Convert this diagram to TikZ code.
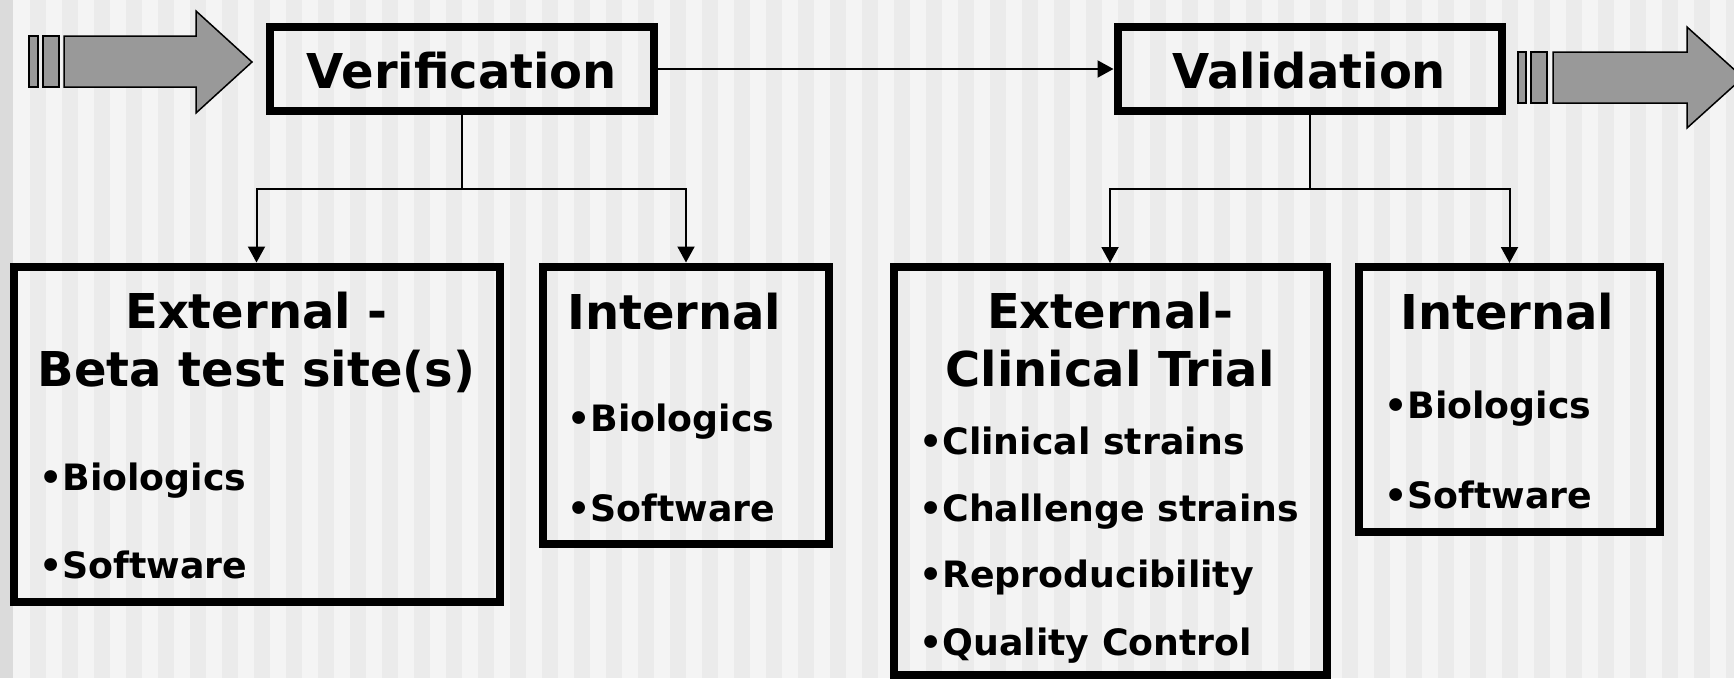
\documentclass[tikz,border=0pt]{standalone}
\usepackage{fontspec}
\setmainfont{DejaVu Sans}
\usetikzlibrary{arrows.meta}
\definecolor{stripeA}{HTML}{F4F4F4}
\definecolor{stripeB}{HTML}{EBEBEB}
\definecolor{leftstrip}{HTML}{DBDBDB}
\definecolor{arrowgray}{HTML}{999999}
\tikzset{
  boxframe/.style={draw=black, line width=8pt, rectangle, inner sep=0pt},
  conn/.style={draw=black, line width=2pt},
  tip/.style={-{Triangle[length=16pt,width=17pt]}},
  head/.style={font=\fontsize{48}{57}\selectfont\bfseries, inner sep=0pt},
  item/.style={font=\fontsize{36.3}{43}\selectfont\bfseries, inner sep=0pt, anchor=base west},
  bigarrow/.style={fill=arrowgray, draw=black, line width=1.5pt, line join=miter},
}
\begin{document}
\begin{tikzpicture}[x=1pt, y=-1pt]
\useasboundingbox (0,0) rectangle (1734,678);
\clip (0,0) rectangle (1734,678);
% background stripes
\fill[stripeA] (0,0) rectangle (1734,678);
\foreach \k in {0,...,53} {
  \fill[stripeB] ({30+32*\k},0) rectangle ({46+32*\k},678);
}
\fill[leftstrip] (0,0) rectangle (13,678);

% big arrows
\draw[bigarrow] (29,36) rectangle (38,87);
\draw[bigarrow] (43,36) rectangle (59,87);
\draw[bigarrow] (64,36) -- (196,36) -- (196,11) -- (252,62) -- (196,113) -- (196,87) -- (64,87) -- cycle;

\draw[bigarrow] (1518,52) rectangle (1526,103);
\draw[bigarrow] (1531,52) rectangle (1547,103);
\draw[bigarrow] (1553,52) -- (1687,52) -- (1687,27) -- (1743,77.5) -- (1687,128) -- (1687,103) -- (1553,103) -- cycle;

% boxes
\node[boxframe, minimum width=384pt, minimum height=84pt] (ver) at (462,69) {};
\node[boxframe, minimum width=384pt, minimum height=84pt] (val) at (1309.5,69) {};
\node[boxframe, minimum width=486pt, minimum height=335pt] (b1) at (256.5,434) {};
\node[boxframe, minimum width=286pt, minimum height=277pt] (b2) at (686,405) {};
\node[boxframe, minimum width=433pt, minimum height=408pt] (b3) at (1110,471) {};
\node[boxframe, minimum width=301pt, minimum height=265pt] (b4) at (1509.5,399.5) {};

% connectors
\coordinate (vj) at (462,189);
\coordinate (wj) at (1309.5,189);
\draw[conn, tip] (ver.east) -- (val.west);
\draw[conn] (ver.south) -- (vj);
\draw[conn, tip] (vj) -| (b1.north);
\draw[conn, tip] (vj) -| (b2.north);
\draw[conn] (val.south) -- (wj);
\draw[conn, tip] (wj) -| (b3.north);
\draw[conn, tip] (wj) -| (b4.north);

% texts
\node[head, anchor=base] (tver) at (462,88) {Verification};
\node[head, anchor=base] (tval) at (1309.5,88) {Validation};

\node[head, anchor=base] (t1a) at (256.5,328) {External -};
\node[head, anchor=base] (t1b) at (256.5,386) {Beta test site(s)};
\node[item] (t1c) at (39,490) {•Biologics};
\node[item] (t1d) at (39,578) {•Software};

\node[head, anchor=base west] (t2a) at (567,329) {Internal};
\node[item] (t2b) at (567,431) {•Biologics};
\node[item] (t2c) at (567,521) {•Software};

\node[head, anchor=base] (t3a) at (1110,328) {External-};
\node[head, anchor=base] (t3b) at (1110,386) {Clinical Trial};
\node[item] (t3c) at (919,454) {•Clinical strains};
\node[item] (t3d) at (919,521) {•Challenge strains};
\node[item] (t3e) at (919,587) {•Reproducibility};
\node[item] (t3f) at (919,655) {•Quality Control};

\node[head, anchor=base west] (t4a) at (1400,329) {Internal};
\node[item] (t4b) at (1384,418) {•Biologics};
\node[item] (t4c) at (1384,508) {•Software};
\end{tikzpicture}
\end{document}
